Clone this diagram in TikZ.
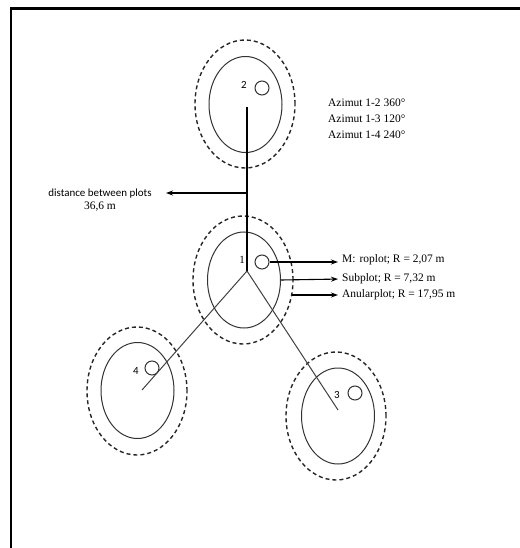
\documentclass[tikz,border=0pt]{standalone}
\usepackage{fontspec}
\setmainfont{Liberation Serif}
\newfontfamily\carl{Carlito}
\usetikzlibrary{shapes.geometric,arrows.meta}
\begin{document}
\begin{tikzpicture}[x=1bp,y=-1bp,
  annring/.style={ellipse, draw=black!85, dash pattern=on 4bp off 3bp, line width=1.4bp, minimum width=100bp, minimum height=128bp, inner sep=0pt},
  subring/.style={ellipse, draw=black!80, line width=1bp, minimum width=73bp, minimum height=96bp, inner sep=0pt},
  micring/.style={circle, draw=black!80, line width=1bp, minimum size=14bp, inner sep=0pt},
  txt/.style={font=\fontsize{11.5}{13}\selectfont, inner sep=0pt, anchor=west},
  numlbl/.style={font=\carl\fontsize{11}{13}\selectfont, inner sep=0pt},
  arr/.style={-{Stealth[length=7bp,width=5bp]}, line width=1.1bp},
  spoke/.style={line width=1bp, draw=black!75}]
\useasboundingbox (0,0) rectangle (520,548);
% frame
\draw[line width=2.6bp] (11,548) -- (11,8.5) -- (520,8.5);

% plot 2
\node[annring] (ann2) at (245,104) {};
\node[subring] (sub2) at (245.5,104.5) {};
\node[micring] (mic2) at (262,88) {};
\node[numlbl] (n2) at (244,85) {2};

% plot 1
\node[annring] (ann1) at (243,280) {};
\node[subring] (sub1) at (244,280) {};
\node[micring] (mic1) at (262,262) {};
\node[inner sep=0pt, font=\fontsize{11}{13}\selectfont] (n1) at (242,260) {1};

% plot 4
\node[annring] (ann4) at (137,391) {};
\node[subring] (sub4) at (137.5,390.5) {};
\node[micring] (mic4) at (152,368) {};
\node[numlbl] (n4) at (136,371) {4};

% plot 3
\node[annring] (ann3) at (336,416) {};
\node[subring] (sub3) at (338,416) {};
\node[micring] (mic3) at (355,393) {};
\node[numlbl] (n3) at (337,395) {3};

% spokes
\coordinate (hub) at (247,271);
\coordinate (c2) at (247,107);
\coordinate (c3) at (338,410);
\coordinate (c4) at (142,390);
\draw[line width=1.2bp] (hub) -- (c2);
\draw[spoke] (hub) -- (c3);
\draw[spoke] (hub) -- (c4);

% distance label
\node[inner sep=0pt, align=center] (dist) at (100,200)
  {{\carl\fontsize{11}{13}\selectfont distance between plots}\\[1bp]{\fontsize{11.5}{13}\selectfont 36,6 m}};
\coordinate (dmid) at (247,193);
\coordinate (dtip) at (166,193);
\draw[arr] (dmid) -- (dtip);

% azimuth
\node[txt] (az2) at (328,103) {Azimut 1-2 360°};
\node[txt] (az3) at (328,119) {Azimut 1-3 120°};
\node[txt] (az4) at (328,135) {Azimut 1-4 240°};

% legend
\node[txt] (micro) at (342,260) {M:\hspace{4bp}roplot; R = 2,07 m};
\node[txt] (subt) at (342,279) {Subplot; R = 7,32 m};
\node[txt] (anul) at (342,295) {Anularplot; R = 17,95 m};
\draw[arr, shorten >=4bp] (mic1.east) -- (micro.west |- mic1.east);
\draw[arr, shorten >=4bp] (sub1.east) -- (subt.west);
\coordinate (annpt) at (292,295);
\draw[arr, shorten >=4bp] (annpt) -- (anul.west);
\end{tikzpicture}
\end{document}
